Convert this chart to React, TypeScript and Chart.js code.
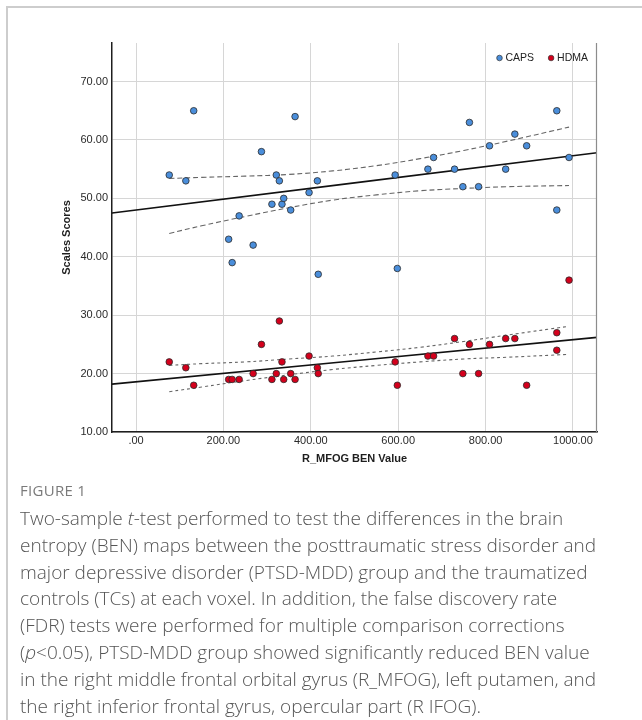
import React, { useEffect, useRef } from 'react';
import { Chart, registerables } from 'chart.js';

Chart.register(...registerables);

// ---- data ----
const benValues = [76, 114, 132, 212, 220, 236, 268, 287, 311, 321, 328, 334, 338, 354, 364, 396, 415, 417, 593, 598, 668, 681, 729, 748, 763, 784, 809, 846, 867, 894, 963, 963, 991];
const capsScores = [54, 53, 65, 43, 39, 47, 42, 58, 49, 54, 53, 49, 50, 48, 64, 51, 53, 37, 54, 38, 55, 57, 55, 52, 63, 52, 59, 55, 61, 59, 65, 48, 57];
const hdmaScores = [22, 21, 18, 19, 19, 19, 20, 25, 19, 20, 29, 22, 19, 20, 19, 23, 21, 20, 22, 18, 23, 23, 26, 20, 25, 20, 25, 26, 26, 18, 27, 24, 36];

const fitX = [-55, 1055];
const capsFit = [47.5, 57.8];
const hdmaFit = [18.2, 26.2];

const bandX = [76, 150, 250, 350, 450, 550, 650, 750, 850, 991];
const capsUpper = [53.4, 53.6, 53.8, 54.1, 54.7, 55.6, 56.8, 58.2, 59.8, 62.2];
const capsLower = [44.0, 45.3, 46.9, 48.4, 49.7, 50.6, 51.3, 51.7, 52.0, 52.2];
const hdmaUpper = [21.4, 21.7, 22.0, 22.5, 23.0, 23.7, 24.5, 25.5, 26.6, 28.1];
const hdmaLower = [16.9, 17.7, 18.8, 19.8, 20.7, 21.4, 22.0, 22.5, 22.8, 23.3];

const xTicks = [0, 200, 400, 600, 800, 1000];
const xTickLabels = ['.00', '200.00', '400.00', '600.00', '800.00', '1000.00'];
const yTicks = [10, 20, 30, 40, 50, 60, 70];
const yTickLabels = ['10.00', '20.00', '30.00', '40.00', '50.00', '60.00', '70.00'];

const seriesNames = ['CAPS', 'HDMA'];
const xTitle = 'R_MFOG BEN Value';
const yTitle = 'Scales Scores';

const BLUE = '#4a8edb';
const RED = '#d4001c';
const SANS = '"Liberation Sans", Arial, sans-serif';

const pts = (xs: number[], ys: number[]) => xs.map((x, i) => ({ x, y: ys[i] }));

const extras = {
  id: 'extras',
  afterDraw(chart: any) {
    const { ctx, chartArea: a } = chart;
    ctx.save();
    // right frame line
    ctx.strokeStyle = '#8c8c8c';
    ctx.lineWidth = 1.2;
    ctx.beginPath();
    ctx.moveTo(a.right - 0.5, a.top);
    ctx.lineTo(a.right - 0.5, a.bottom);
    ctx.stroke();
    // axis titles
    ctx.fillStyle = '#1e1e1e';
    ctx.font = `bold 11px ${SANS}`;
    ctx.textAlign = 'center';
    ctx.textBaseline = 'middle';
    ctx.fillText(xTitle, (a.left + a.right) / 2, a.bottom + 27);
    ctx.save();
    ctx.translate(a.left - 45, (a.top + a.bottom) / 2);
    ctx.rotate(-Math.PI / 2);
    ctx.fillText(yTitle, 0, 0);
    ctx.restore();
    // legend
    ctx.font = `10.5px ${SANS}`;
    ctx.textAlign = 'left';
    const ly = a.top + 15;
    const w2 = ctx.measureText(seriesNames[1]).width;
    const t2 = a.right - 9 - w2;
    const d2 = t2 - 6;
    const w1 = ctx.measureText(seriesNames[0]).width;
    const t1 = d2 - 17 - w1;
    const d1 = t1 - 6;
    const dot = (x: number, c: string) => {
      ctx.beginPath();
      ctx.arc(x, ly, 2.8, 0, Math.PI * 2);
      ctx.fillStyle = c;
      ctx.fill();
      ctx.lineWidth = 0.7;
      ctx.strokeStyle = '#333';
      ctx.stroke();
    };
    dot(d1, BLUE);
    dot(d2, RED);
    ctx.fillStyle = '#222';
    ctx.fillText(seriesNames[0], t1, ly + 0.5);
    ctx.fillText(seriesNames[1], t2, ly + 0.5);
    ctx.restore();
  },
};

function ScatterChart() {
  const ref = useRef<HTMLCanvasElement>(null);
  useEffect(() => {
    if (!ref.current) return;
    const lineDs = (data: any, dash: number[], color: string, width: number) => ({
      type: 'line',
      data,
      borderColor: color,
      borderWidth: width,
      borderDash: dash,
      pointRadius: 0,
      fill: false,
      tension: 0.4,
      showLine: true,
    });
    const chart = new Chart(ref.current, {
      type: 'scatter',
      data: {
        datasets: [
          {
            label: seriesNames[0],
            data: pts(benValues, capsScores),
            backgroundColor: BLUE,
            borderColor: '#2b2b2b',
            borderWidth: 0.8,
            pointRadius: 3.3,
          },
          {
            label: seriesNames[1],
            data: pts(benValues, hdmaScores),
            backgroundColor: RED,
            borderColor: '#2b2b2b',
            borderWidth: 0.8,
            pointRadius: 3.3,
          },
          lineDs(pts(fitX, capsFit), [], '#111', 1.6),
          lineDs(pts(fitX, hdmaFit), [], '#111', 1.6),
          lineDs(pts(bandX, capsUpper), [5, 3], '#666', 1.1),
          lineDs(pts(bandX, capsLower), [5, 3], '#666', 1.1),
          lineDs(pts(bandX, hdmaUpper), [3, 3], '#666', 1.1),
          lineDs(pts(bandX, hdmaLower), [3, 3], '#666', 1.1),
        ] as any,
      },
      options: {
        animation: false,
        responsive: false,
        devicePixelRatio: 1,
        layout: { padding: { top: 43, right: 45, left: 0, bottom: 0 } },
        plugins: { legend: { display: false }, tooltip: { enabled: false } },
        scales: {
          x: {
            type: 'linear',
            min: -55,
            max: 1055,
            afterBuildTicks: (s: any) => { s.ticks = xTicks.map((v) => ({ value: v })); },
            afterFit: (s: any) => { s.height = 48; },
            ticks: {
              callback: (v: any) => xTickLabels[xTicks.indexOf(Number(v))] ?? '',
              color: '#2a2a2a',
              font: { family: SANS, size: 11 },
              padding: 2,
              maxRotation: 0,
            },
            grid: { color: '#d6d6d6', lineWidth: 1, drawTicks: false },
            border: { color: '#1e1e1e', width: 1.5 },
          },
          y: {
            type: 'linear',
            min: 10,
            max: 76.6,
            afterBuildTicks: (s: any) => { s.ticks = yTicks.map((v) => ({ value: v })); },
            afterFit: (s: any) => { s.width = 112; },
            ticks: {
              callback: (v: any) => yTickLabels[yTicks.indexOf(Number(v))] ?? '',
              color: '#2a2a2a',
              font: { family: SANS, size: 11 },
              padding: 4,
            },
            grid: { color: '#d6d6d6', lineWidth: 1, drawTicks: false },
            border: { color: '#1e1e1e', width: 1.5 },
          },
        },
      } as any,
      plugins: [extras],
    });
    return () => chart.destroy();
  }, []);
  return <canvas ref={ref} width={642} height={480} style={{ display: 'block', width: 642, height: 480 }} />;
}

const captionStyle: React.CSSProperties = {
  position: 'absolute',
  left: 20,
  top: 505,
  fontFamily: '"Open Sans", "Noto Sans", sans-serif',
  fontWeight: 300,
  fontSize: 19,
  lineHeight: '26.8px',
  color: '#555',
  whiteSpace: 'nowrap',
};

export default function App() {
  return (
    <div>
      <div style={{ position: 'fixed', left: 6, top: 6, right: -20, bottom: -20, border: '2px solid #cdcdcd', pointerEvents: 'none' }} />
      <div style={{ position: 'absolute', left: 0, top: 0, width: 642, height: 480 }}>
        <ScatterChart />
      </div>
      <div style={{ position: 'absolute', left: 20, top: 480, fontFamily: '"Open Sans", "Noto Sans", sans-serif', fontSize: 15, color: '#7a7a7a', letterSpacing: 0.3 }}>
        FIGURE 1
      </div>
      <div style={captionStyle}>
        <div>Two-sample <i>t</i>-test performed to test the differences in the brain</div>
        <div>entropy (BEN) maps between the posttraumatic stress disorder and</div>
        <div>major depressive disorder (PTSD-MDD) group and the traumatized</div>
        <div>controls (TCs) at each voxel. In addition, the false discovery rate</div>
        <div>(FDR) tests were performed for multiple comparison corrections</div>
        <div>(<i>p</i>&lt;0.05), PTSD-MDD group showed significantly reduced BEN value</div>
        <div>in the right middle frontal orbital gyrus (R_MFOG), left putamen, and</div>
        <div>the right inferior frontal gyrus, opercular part (R IFOG).</div>
      </div>
    </div>
  );
}
